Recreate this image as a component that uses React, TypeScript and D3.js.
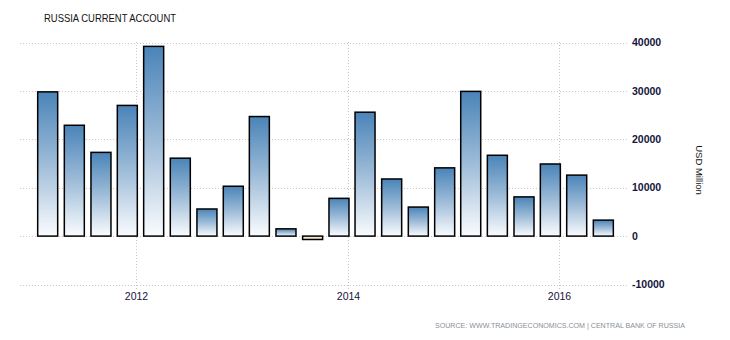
import React from "react";
import * as d3 from "d3";

const quarters: string[] = [
  "2011-03-01", "2011-06-01", "2011-09-01", "2011-12-01",
  "2012-03-01", "2012-06-01", "2012-09-01", "2012-12-01",
  "2013-03-01", "2013-06-01", "2013-09-01", "2013-12-01",
  "2014-03-01", "2014-06-01", "2014-09-01", "2014-12-01",
  "2015-03-01", "2015-06-01", "2015-09-01", "2015-12-01",
  "2016-03-01", "2016-06-01",
];
const values: number[] = [
  29800, 22900, 17300, 27000, 39200, 16100, 5600, 10300, 24700, 1500, -700, 7800,
  25600, 11800, 6000, 14100, 29900, 16700, 8100, 14900, 12600, 3300,
];
const yTicks: number[] = [-10000, 0, 10000, 20000, 30000, 40000];
const xTickYears: number[] = [2012, 2014, 2016];

const W = 730;
const H = 340;

export default function App() {
  const x = d3
    .scaleTime()
    .domain([new Date(2011, 0, 1), new Date(2017, 0, 1)])
    .range([30.6, 665.3]);
  const y = d3.scaleLinear().domain([-10000, 40000]).range([284.5, 42.5]);
  const parse = d3.timeParse("%Y-%m-%d");
  const barW = 20;
  const gridLeft = 20;
  const gridRight = 628;

  return (
    <div style={{ position: "absolute", left: 0, top: 0 }}>
      <svg width={W} height={H} style={{ display: "block", background: "#fff" }}>
        <defs>
          <linearGradient id="posGrad" x1="0" y1="0" x2="0" y2="1">
            <stop offset="0%" stopColor="#4a84b8" />
            <stop offset="50%" stopColor="#9ebcd8" />
            <stop offset="100%" stopColor="#fafcfe" />
          </linearGradient>
        </defs>
        <text
          x={44}
          y={21.5}
          fontFamily="'Liberation Sans', Arial, sans-serif"
          fontSize={10.5}
          textLength={132}
          lengthAdjust="spacingAndGlyphs"
          fill="#111"
        >
          RUSSIA CURRENT ACCOUNT
        </text>
        {/* horizontal grid */}
        {yTicks.map((t) => (
          <g key={"h" + t}>
            <line
              x1={gridLeft}
              x2={gridRight}
              y1={Math.round(y(t)) + 0.5}
              y2={Math.round(y(t)) + 0.5}
              stroke="#c8c8c8"
              strokeDasharray="1,2"
            />
            <text
              x={632}
              y={y(t)}
              dy="0.35em"
              fontFamily="'Liberation Sans', Arial, sans-serif"
              fontSize={10.5}
              fontWeight="bold"
              fill="#14143c"
            >
              {t}
            </text>
          </g>
        ))}
        {/* vertical grid */}
        {xTickYears.map((yr) => {
          const px = Math.round(x(new Date(yr, 0, 1))) + 0.5;
          return (
            <g key={"v" + yr}>
              <line
                x1={px}
                x2={px}
                y1={42}
                y2={289}
                stroke="#c8c8c8"
                strokeDasharray="1,2"
              />
              <text
                x={px}
                y={300}
                textAnchor="middle"
                fontFamily="'Liberation Sans', Arial, sans-serif"
                fontSize={10.5}
                fill="#14143c"
              >
                {yr}
              </text>
            </g>
          );
        })}
        {/* bars */}
        {quarters.map((q, i) => {
          const cx = x(parse(q) as Date);
          const v = values[i];
          const top = y(Math.max(v, 0));
          const bottom = y(Math.min(v, 0));
          return (
            <rect
              key={q}
              x={cx - barW / 2}
              y={top}
              width={barW}
              height={Math.max(bottom - top, 1)}
              fill={v >= 0 ? "url(#posGrad)" : "#f7e8d2"}
              stroke="#000"
              strokeWidth={1.5}
            />
          );
        })}
        <text
          transform={`translate(696,170) rotate(90)`}
          textAnchor="middle"
          fontFamily="'Liberation Sans', Arial, sans-serif"
          fontSize={9.5}
          fill="#111"
        >
          USD Million
        </text>
        <text
          x={685}
          y={328}
          textAnchor="end"
          fontFamily="'Liberation Sans', Arial, sans-serif"
          fontSize={7.5}
          textLength={250}
          lengthAdjust="spacingAndGlyphs"
          fill="#8a8f99"
        >
          SOURCE: WWW.TRADINGECONOMICS.COM | CENTRAL BANK OF RUSSIA
        </text>
      </svg>
    </div>
  );
}
